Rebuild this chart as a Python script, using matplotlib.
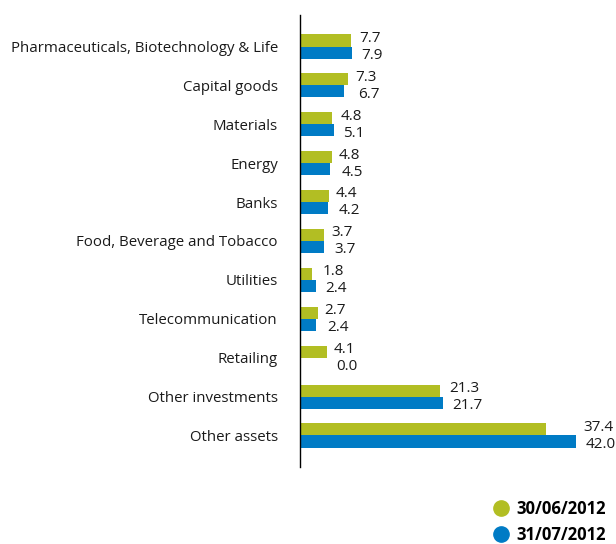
import matplotlib
matplotlib.use("Agg")
import matplotlib.pyplot as plt
from matplotlib.lines import Line2D
import numpy as np

categories = ["Pharmaceuticals, Biotechnology & Life", "Capital goods", "Materials",
              "Energy", "Banks", "Food, Beverage and Tobacco", "Utilities",
              "Telecommunication", "Retailing", "Other investments", "Other assets"]
jun_2012 = [7.7, 7.3, 4.8, 4.8, 4.4, 3.7, 1.8, 2.7, 4.1, 21.3, 37.4]
jul_2012 = [7.9, 6.7, 5.1, 4.5, 4.2, 3.7, 2.4, 2.4, 0.0, 21.7, 42.0]
series_labels = ["30/06/2012", "31/07/2012"]

GREEN = "#B2BE23"
BLUE = "#007BC5"
TEXT = "#1a1a1a"

plt.rcParams['font.family'] = ['Open Sans', 'DejaVu Sans']

fig = plt.figure(figsize=(6.16, 5.44), dpi=100)
ax = fig.add_axes([300/616, 1-467/544, 300/616, 452/544])

y = np.arange(len(categories))
h = 0.31
ax.barh(y - h/2, jun_2012, height=h, color=GREEN)
ax.barh(y + h/2, jul_2012, height=h, color=BLUE)

for i, (g, b) in enumerate(zip(jun_2012, jul_2012)):
    m = max(g, b)
    ax.annotate(f"{g:.1f}", xy=(m, i - h/2), xytext=(5, 1.5), textcoords="offset points",
                va="center", ha="left", fontsize=11, color=TEXT)
    ax.annotate(f"{b:.1f}", xy=(m, i + h/2), xytext=(7, -2), textcoords="offset points",
                va="center", ha="left", fontsize=11, color=TEXT)

ax.set_xlim(0, 42.0 * 300 / 276)
ax.set_ylim(len(categories) - 1 + 0.81, -0.81)
ax.set_yticks(y)
ax.set_yticklabels(categories, fontsize=10.8, color=TEXT)
ax.tick_params(axis='y', length=0, pad=16)
ax.set_xticks([])
for s in ["top", "right", "bottom"]:
    ax.spines[s].set_visible(False)
ax.spines["left"].set_color("#000000")
ax.spines["left"].set_linewidth(1.0)

handles = [Line2D([], [], marker='o', linestyle='none', markersize=11,
                  markerfacecolor=c, markeredgecolor=c) for c in (GREEN, BLUE)]
fig.legend(handles, series_labels, loc="lower right", bbox_to_anchor=(1.0, -0.018),
           frameon=False, prop={'weight': 'bold', 'size': 12}, handletextpad=0.45,
           labelspacing=0.45, borderaxespad=0.2, handlelength=1.0)

fig.savefig("out.png", dpi=100)
